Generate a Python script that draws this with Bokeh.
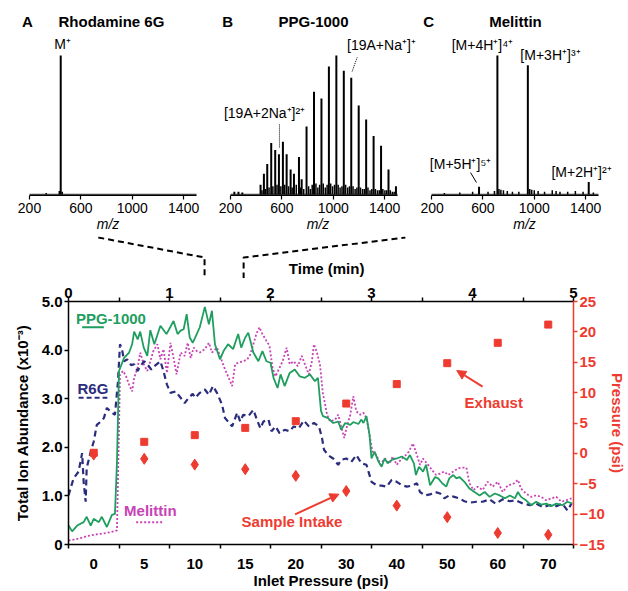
from bokeh.plotting import figure
from bokeh.models import Range1d, LinearAxis, FixedTicker, Label, Arrow, NormalHead
from bokeh.layouts import column, row
from bokeh.embed import file_html
from bokeh.resources import INLINE

FONT = "Liberation Sans"
GREEN = "#1f9e5f"
NAVY = "#2b2d7c"
MAG = "#c843b6"
RED = "#ee3b30"

# ---------------- spectra data ----------------
MZ_MIN, MZ_MAX = 200, 1500
MZ_TICKS = [200, 600, 1000, 1400]

rh_mz = [443]
rh_int = [100]
rh_small_mz = [330, 432, 455]
rh_small_int = [1, 2.5, 2]

ppg_mz = [230, 262, 292, 434, 460, 486, 517, 548, 577, 608, 637, 668, 694, 733, 754,
          792, 850, 908, 966, 1024, 1082, 1140, 1198, 1256, 1314, 1372, 1430, 1488]
ppg_int = [2, 2, 1.5, 7, 15, 22, 37, 32, 29, 38, 29, 18, 15, 27, 11,
           49, 74, 69, 92, 100, 89, 84, 64, 54, 42, 35, 18, 6]
ppg_small_mz = [445, 472, 500, 530, 562, 592, 622, 652, 680, 712,
                745, 770, 808, 822, 836, 865, 880, 894, 922, 938,
                952, 980, 995, 1010, 1038, 1053, 1068, 1096, 1112, 1126,
                1154, 1170, 1184, 1212, 1228, 1242, 1270, 1286, 1300, 1328,
                1344, 1358, 1386, 1402, 1416, 1444, 1460, 1474]
ppg_small_int = [3, 4, 5, 6, 7, 6, 7, 6, 5, 7,
                 5, 4, 6, 4, 7, 8, 5, 7, 8, 5,
                 7, 8, 6, 7, 7, 5, 6, 7, 5, 6,
                 6, 4, 5, 5, 4, 4, 5, 3, 4, 4,
                 3, 3, 4, 3, 3, 3, 2, 2]

mel_mz = [570, 713, 950, 1424]
mel_int = [5.5, 100, 93, 9]
mel_small_mz = [300, 420, 520, 640, 690, 725, 740, 760, 790, 830, 880, 965,
                980, 1000, 1030, 1080, 1140, 1170, 1200, 1260, 1320, 1380, 1460]
mel_small_int = [1, 1.5, 2, 2, 2.5, 4, 3.5, 3, 2.5, 2, 2, 4,
                 3.5, 3, 2.5, 2, 3, 2.5, 2, 2, 2.5, 2, 1.5]

# ---------------- chromatogram data ----------------
ppg_t = [0.00, 0.036, 0.086, 0.15, 0.18, 0.22, 0.25, 0.30, 0.33, 0.38, 0.43, 0.46, 0.48, 0.50,
         0.55, 0.60, 0.63, 0.65, 0.685, 0.71, 0.745, 0.78, 0.81, 0.85, 0.91, 0.97, 1.01, 1.04,
         1.08, 1.11, 1.14, 1.17, 1.20, 1.23, 1.255, 1.30, 1.35, 1.39, 1.42, 1.45, 1.50, 1.535,
         1.58, 1.63, 1.68, 1.71, 1.75, 1.78, 1.83, 1.88, 1.92, 1.96, 2.00, 2.03, 2.07, 2.10,
         2.14, 2.19, 2.24, 2.29, 2.34, 2.39, 2.44, 2.47, 2.50, 2.52, 2.57, 2.62, 2.67, 2.70,
         2.74, 2.79, 2.82, 2.87, 2.90, 2.92, 2.95, 2.98, 3.00, 3.03, 3.07, 3.10, 3.13, 3.16,
         3.20, 3.25, 3.30, 3.35, 3.38, 3.42, 3.44, 3.47, 3.51, 3.54, 3.58, 3.63, 3.66, 3.70,
         3.74, 3.77, 3.81, 3.84, 3.87, 3.92, 3.97, 4.02, 4.07, 4.12, 4.17, 4.22, 4.27, 4.32,
         4.37, 4.42, 4.45, 4.48, 4.53, 4.58, 4.63, 4.68, 4.73, 4.78, 4.83, 4.89, 4.94, 4.99]
ppg_v = [0.39, 0.27, 0.39, 0.46, 0.57, 0.39, 0.53, 0.46, 0.57, 0.36, 0.61, 0.63, 1.70, 3.57,
         3.84, 3.95, 4.12, 4.38, 4.22, 4.38, 4.05, 3.88, 4.41, 4.12, 4.50, 4.33, 4.48, 4.60,
         4.33, 4.40, 4.43, 4.74, 4.26, 4.15, 4.26, 4.47, 4.89, 4.53, 4.81, 4.12, 3.81, 3.98,
         4.12, 4.02, 4.33, 4.05, 4.26, 4.36, 3.95, 3.77, 3.98, 3.77, 3.74, 3.43, 3.22, 3.50,
         3.26, 3.53, 3.60, 3.46, 3.43, 3.50, 3.36, 3.43, 2.75, 2.64, 2.60, 2.50, 2.53, 2.36,
         2.50, 2.46, 2.52, 2.48, 2.57, 2.50, 2.64, 2.26, 1.77, 1.91, 1.70, 1.60, 1.77, 1.67,
         1.74, 1.77, 1.81, 1.74, 1.84, 1.67, 1.43, 1.60, 1.50, 1.64, 1.22, 1.39, 1.36, 1.26,
         1.19, 1.36, 1.43, 1.36, 1.39, 1.29, 1.15, 1.08, 1.01, 1.08, 0.98, 1.05, 1.01, 0.95,
         1.01, 0.95, 1.08, 0.98, 0.91, 0.81, 0.88, 0.82, 0.84, 0.79, 0.84, 0.81, 0.88, 0.84]

r6g_t = [0.00, 0.05, 0.10, 0.135, 0.15, 0.17, 0.18, 0.22, 0.25, 0.28, 0.32, 0.35, 0.38, 0.43,
         0.46, 0.49, 0.51, 0.53, 0.55, 0.58, 0.62, 0.65, 0.685, 0.71, 0.75, 0.78, 0.82, 0.85,
         0.91, 0.94, 0.975, 1.01, 1.06, 1.11, 1.15, 1.19, 1.23, 1.255, 1.30, 1.35, 1.39, 1.43,
         1.47, 1.52, 1.55, 1.58, 1.62, 1.67, 1.70, 1.73, 1.78, 1.83, 1.86, 1.90, 1.93, 1.98,
         2.01, 2.05, 2.09, 2.14, 2.19, 2.23, 2.28, 2.33, 2.38, 2.43, 2.48, 2.51, 2.53, 2.57,
         2.62, 2.67, 2.70, 2.75, 2.80, 2.85, 2.90, 2.95, 3.00, 3.05, 3.10, 3.15, 3.20, 3.25,
         3.30, 3.35, 3.40, 3.45, 3.48, 3.53, 3.58, 3.63, 3.68, 3.72, 3.77, 3.82, 3.87, 3.92,
         3.97, 4.04, 4.10, 4.17, 4.23, 4.30, 4.37, 4.43, 4.50, 4.57, 4.63, 4.70, 4.76, 4.83,
         4.89, 4.94, 4.98]
r6g_v = [1.01, 1.36, 1.50, 1.88, 1.29, 0.88, 1.57, 1.91, 2.12, 2.46, 2.53, 2.60, 2.81, 2.71,
         2.67, 3.36, 4.12, 4.02, 3.77, 3.81, 3.69, 3.71, 3.57, 3.67, 3.77, 3.71, 3.60, 3.67,
         3.77, 3.57, 3.29, 3.12, 3.15, 3.02, 2.91, 3.02, 3.10, 3.02, 3.12, 3.19, 3.08, 3.26,
         3.12, 2.88, 2.60, 2.53, 2.43, 2.71, 2.53, 2.67, 2.64, 2.77, 2.60, 2.39, 2.53, 2.57,
         2.33, 2.43, 2.29, 2.36, 2.33, 2.43, 2.39, 2.55, 2.43, 2.50, 2.43, 2.19, 1.95, 1.84,
         1.77, 1.64, 1.74, 1.77, 1.70, 1.84, 1.67, 1.64, 1.29, 1.22, 1.21, 1.19, 1.33, 1.29,
         1.22, 1.19, 1.21, 1.26, 1.08, 1.01, 1.03, 1.08, 1.05, 0.95, 1.01, 0.98, 0.95, 0.89,
         0.86, 0.88, 0.88, 0.93, 0.84, 0.93, 0.89, 0.91, 0.84, 0.81, 0.84, 0.77, 0.81, 0.79,
         0.84, 0.70, 0.84]

mel_t = [0.00, 0.05, 0.12, 0.18, 0.25, 0.32, 0.38, 0.45, 0.48, 0.50, 0.51, 0.54, 0.57, 0.60,
         0.63, 0.65, 0.685, 0.71, 0.745, 0.78, 0.81, 0.84, 0.88, 0.91, 0.94, 0.975, 1.01, 1.04,
         1.07, 1.11, 1.15, 1.18, 1.21, 1.24, 1.27, 1.30, 1.35, 1.39, 1.42, 1.47, 1.52, 1.55,
         1.58, 1.62, 1.65, 1.68, 1.73, 1.77, 1.80, 1.83, 1.86, 1.89, 1.92, 1.96, 1.99, 2.02,
         2.05, 2.09, 2.12, 2.16, 2.19, 2.23, 2.27, 2.31, 2.34, 2.38, 2.41, 2.43, 2.46, 2.49,
         2.52, 2.53, 2.56, 2.59, 2.64, 2.67, 2.70, 2.73, 2.76, 2.79, 2.82, 2.85, 2.89, 2.92,
         2.95, 2.98, 3.01, 3.05, 3.09, 3.13, 3.18, 3.21, 3.25, 3.30, 3.34, 3.37, 3.41, 3.45,
         3.48, 3.51, 3.56, 3.60, 3.64, 3.68, 3.72, 3.76, 3.81, 3.86, 3.89, 3.94, 3.97, 4.01,
         4.05, 4.10, 4.15, 4.20, 4.25, 4.30, 4.35, 4.40, 4.45, 4.48, 4.53, 4.58, 4.63, 4.68,
         4.73, 4.78, 4.83, 4.88, 4.93, 4.98]
mel_v = [0.08, 0.10, 0.13, 0.17, 0.20, 0.22, 0.24, 0.27, 0.29, 2.39, 3.50, 3.57, 3.46, 3.29,
         3.15, 3.43, 3.64, 3.95, 3.71, 3.57, 3.77, 3.98, 4.12, 3.81, 4.02, 3.53, 4.15, 3.84,
         3.50, 3.95, 3.88, 4.15, 3.84, 4.05, 3.98, 3.95, 4.02, 4.15, 3.95, 4.05, 3.77, 3.60,
         3.46, 3.26, 3.71, 3.74, 3.77, 3.81, 3.91, 4.12, 4.33, 4.47, 4.33, 4.19, 4.09, 3.64,
         3.46, 3.64, 3.77, 4.05, 3.71, 3.77, 3.67, 3.88, 3.71, 3.50, 3.77, 4.12, 3.95, 3.70,
         3.08, 3.00, 2.67, 2.53, 2.57, 2.67, 2.43, 2.19, 2.46, 2.67, 3.05, 2.74, 2.67, 2.71,
         2.60, 2.26, 1.91, 1.84, 1.64, 1.77, 1.67, 1.81, 1.64, 1.77, 1.84, 1.91, 2.08, 1.84,
         1.64, 1.77, 1.64, 1.53, 1.43, 1.46, 1.50, 1.43, 1.50, 1.57, 1.58, 1.58, 1.26, 1.12,
         1.19, 1.12, 1.29, 1.19, 1.29, 1.08, 1.22, 1.24, 1.33, 1.15, 1.05, 0.98, 1.01, 0.98,
         0.91, 0.95, 0.98, 0.88, 0.91, 0.95]

# inlet pressure steps (one per half minute)
step_centers = [0.25, 0.75, 1.25, 1.75, 2.25, 2.75, 3.25, 3.75, 4.25, 4.75]
step_bounds = [0, 0.5, 1, 1.5, 2, 2.5, 3, 3.5, 4, 4.5, 5]
inlet_labels = ["0", "5", "10", "15", "20", "30", "40", "50", "60", "70"]
exhaust_psi = [0.1, 1.9, 3.0, 4.2, 5.3, 8.2, 11.4, 14.85, 18.2, 21.2]
intake_psi = [-0.2, -0.9, -1.85, -2.6, -3.7, -6.2, -8.6, -10.5, -13.1, -13.4]

time_ticks = [0, 1, 2, 3, 4, 5]
time_minor = [0.5, 1.5, 2.5, 3.5, 4.5]
tia_ticks = [0, 1, 2, 3, 4, 5]
tia_labels = ["0", "1.0", "2.0", "3.0", "4.0", "5.0"]
psi_ticks = [-15, -10, -5, 0, 5, 10, 15, 20, 25]
spectra_window = [1.0, 1.48]   # minutes averaged for spectra A-C

# ---------------- layout geometry (pixels) ----------------
W = 628
SP_H = 236            # spectra row height
SP_FRAME_H = 195      # spectra frame height (axis line at its bottom)
SP_AX_W = 167         # pixel length of the 200-1500 m/z axis
SP_PX = 139.0         # pixels for 100 % intensity
SP_WIDTHS = [215, 205, 208]
SP_AXIS_LEFT = [29, 230, 431]   # absolute x of m/z 200 for A, B, C
CONN_H = 42
ML, MR, MT = 68, 54, 23
FRAME_H = 243
MB = 47
MAIN_H = MT + FRAME_H + MB
FRAME_W = W - ML - MR
TMAX = 5

k_mz = (MZ_MAX - MZ_MIN) / SP_AX_W
k_int = 100.0 / SP_PX
y0_int = -1 * k_int


def spectrum(idx, mz, inten, small_mz, small_int, letter, title, letter_mz, title_mz):
    width = SP_WIDTHS[idx]
    fig_left = sum(SP_WIDTHS[:idx])
    left_off = SP_AXIS_LEFT[idx] - fig_left
    xr = Range1d(MZ_MIN - left_off * k_mz, MZ_MIN + (width - left_off) * k_mz)
    yr = Range1d(y0_int, y0_int + SP_FRAME_H * k_int)
    p = figure(width=width, height=SP_H, x_range=xr, y_range=yr,
               output_backend="svg", toolbar_location=None,
               min_border_left=0, min_border_right=0, min_border_top=0,
               min_border_bottom=SP_H - SP_FRAME_H, y_axis_location=None)
    p.grid.visible = False
    p.outline_line_color = None
    p.line(x=[MZ_MIN, MZ_MAX], y=[0, 0], line_color="#444444", line_width=1.5)
    p.segment(x0=small_mz, y0=[0] * len(small_mz), x1=small_mz, y1=small_int,
              line_color="black", line_width=1.5)
    p.segment(x0=mz, y0=[0] * len(mz), x1=mz, y1=inten, line_color="black", line_width=2)
    ax = p.xaxis[0]
    ax.bounds = (MZ_MIN, MZ_MAX)
    ax.ticker = FixedTicker(ticks=MZ_TICKS)
    ax.axis_line_width = 1.2
    ax.major_tick_out = 4
    ax.major_tick_in = 0
    ax.major_tick_line_width = 1.2
    ax.minor_tick_out = 0
    ax.minor_tick_in = 0
    ax.major_label_standoff = 3
    ax.major_label_text_font = FONT
    ax.major_label_text_font_size = "14px"
    ax.major_label_text_color = "black"
    ax.axis_label = "m/z"
    ax.axis_label_standoff = 0
    ax.axis_label_text_font = FONT
    ax.axis_label_text_font_size = "14px"
    ax.axis_label_text_font_style = "italic"
    ax.axis_label_text_color = "black"
    for txt, xx in ((letter, letter_mz), (title, title_mz)):
        p.add_layout(Label(x=xx, y=124.5, text=txt, text_align="center",
                           text_baseline="middle", text_font=FONT,
                           text_font_size="15px", text_font_style="bold",
                           text_color="black"))
    return p


def peak_label(p, x, y, text):
    p.add_layout(Label(x=x, y=y, text=text, text_align="center", text_baseline="middle",
                       text_font=FONT, text_font_size="14px", text_color="black"))


pA = spectrum(0, rh_mz, rh_int, rh_small_mz, rh_small_int, "A", "Rhodamine 6G", 184, 838)
peak_label(pA, 457, 108.6, "M\u207a")

pB = spectrum(1, ppg_mz, ppg_int, ppg_small_mz, ppg_small_int, "B", "PPG-1000", 177, 846)
peak_label(pB, 1375, 107.9, "[19A+Na\u207a]\u207a")
peak_label(pB, 465, 58.3, "[19A+2Na\u207a]\u00b2\u207a")
pB.segment(x0=[1147, 581], y0=[88.5, 50.4], x1=[1186, 581], y1=[98.6, 33.1],
           line_color="black", line_width=1, line_dash="1 1")

pC = spectrum(2, mel_mz, mel_int, mel_small_mz, mel_small_int, "C", "Melittin", 177, 854)
peak_label(pC, 597, 107.9, "[M+4H\u207a]\u2074\u207a")
peak_label(pC, 1126, 100.7, "[M+3H\u207a]\u00b3\u207a")
peak_label(pC, 426, 22.3, "[M+5H\u207a]\u2075\u207a")
peak_label(pC, 1368, 16.5, "[M+2H\u207a]\u00b2\u207a")
pC.segment(x0=[504], y0=[15.8], x1=[550], y1=[8.6], line_color="black", line_width=1)

# ---------------- connector figure ----------------
px_per_min = FRAME_W / TMAX
conn = figure(width=W, height=CONN_H,
              x_range=Range1d(-ML / px_per_min, (W - ML) / px_per_min),
              y_range=Range1d(CONN_H, 0), output_backend="svg", toolbar_location=None,
              min_border=0, x_axis_location=None, y_axis_location=None)
conn.grid.visible = False
conn.outline_line_color = None
conn.line(x=[-0.306, spectra_window[0], spectra_window[0]], y=[1, 21, CONN_H],
          line_color="black", line_width=2, line_dash="6 4")
conn.line(x=[spectra_window[1], spectra_window[1], 3.468], y=[CONN_H, 21, 1],
          line_color="black", line_width=2, line_dash="6 4")
conn.add_layout(Label(x=TMAX / 2, y=32, text="Time (min)", text_align="center",
                      text_baseline="middle", text_font=FONT, text_font_size="15px",
                      text_font_style="bold", text_color="black"))

# ---------------- main figure ----------------
p = figure(width=W, height=MAIN_H, x_range=Range1d(0, TMAX), y_range=Range1d(0, 5),
           output_backend="svg", toolbar_location=None,
           min_border_left=ML, min_border_right=MR, min_border_top=MT, min_border_bottom=MB)
p.extra_y_ranges = {"psi": Range1d(-15, 25)}
p.grid.visible = False
p.outline_line_color = None


def style_axis(ax, color="black"):
    ax.axis_line_color = color
    ax.axis_line_width = 1.5
    ax.major_tick_line_color = color
    ax.minor_tick_line_color = color
    ax.major_tick_line_width = 1.5
    ax.minor_tick_line_width = 1.5
    ax.major_tick_in = 0
    ax.minor_tick_in = 0
    ax.major_tick_out = 4
    ax.minor_tick_out = 0
    ax.major_label_text_font = FONT
    ax.major_label_text_font_size = "15px"
    ax.major_label_text_font_style = "bold"
    ax.major_label_text_color = color
    ax.axis_label_text_font = FONT
    ax.axis_label_text_font_size = "15px"
    ax.axis_label_text_font_style = "bold"
    ax.axis_label_text_color = color


# bottom: inlet pressure (labels centred in each half-minute step)
bx = p.xaxis[0]
style_axis(bx)
bx.ticker = FixedTicker(ticks=step_centers, minor_ticks=step_bounds)
bx.major_label_overrides = {c: l for c, l in zip(step_centers, inlet_labels)}
bx.major_tick_out = 0
bx.minor_tick_out = 4
bx.major_label_standoff = 10
bx.axis_label = "Inlet Pressure (psi)"
bx.axis_label_standoff = 0

# left: total ion abundance
ly = p.yaxis[0]
style_axis(ly)
ly.ticker = FixedTicker(ticks=tia_ticks)
ly.major_label_overrides = {t: l for t, l in zip(tia_ticks, tia_labels)}
ly.major_label_standoff = 2
ly.axis_label = "Total Ion Abundance (x10\u207b\u00b3)"
ly.axis_label_standoff = 8

# top: time
tx = LinearAxis(ticker=FixedTicker(ticks=time_ticks, minor_ticks=time_minor))
style_axis(tx)
tx.minor_tick_out = 4
tx.major_label_standoff = 0
p.add_layout(tx, "above")

# right: pressure
ry = LinearAxis(y_range_name="psi", ticker=FixedTicker(ticks=psi_ticks))
style_axis(ry, RED)
ry.major_label_standoff = 2
ry.axis_label = "Pressure (psi)"
ry.axis_label_standoff = 1
p.add_layout(ry, "right")

# traces
p.line(mel_t, mel_v, line_color=MAG, line_width=1.8, line_dash="2 2")
p.line(r6g_t, r6g_v, line_color=NAVY, line_width=2.2, line_dash="6 4")
p.line(ppg_t, ppg_v, line_color=GREEN, line_width=1.8)

# pressures
p.scatter(step_centers, exhaust_psi, marker="square", size=7, fill_color=RED,
          line_color=RED, y_range_name="psi")
p.scatter(step_centers, intake_psi, marker="diamond", size=11, fill_color=RED,
          line_color=RED, y_range_name="psi")


# in-plot legend labels
def txt(x, y, text, color):
    p.add_layout(Label(x=x, y=y, text=text, text_align="center", text_baseline="middle",
                       text_font=FONT, text_font_size="15px", text_font_style="bold",
                       text_color=color))


txt(0.42, 4.64, "PPG-1000", GREEN)
p.line([0.135, 0.35], [4.47, 4.47], line_color=GREEN, line_width=2)
txt(0.242, 3.21, "R6G", NAVY)
p.line([0.10, 0.385], [3.02, 3.02], line_color=NAVY, line_width=2.2, line_dash="5 3")
txt(0.81, 0.70, "Melittin", MAG)
p.line([0.67, 0.93], [0.46, 0.46], line_color=MAG, line_width=2, line_dash="2 2")

txt(2.213, 0.476, "Sample Intake", RED)
txt(4.21, 2.92, "Exhaust", RED)
p.add_layout(Arrow(end=NormalHead(size=9, fill_color=RED, line_color=RED),
                   x_start=2.243, y_start=0.621, x_end=2.678, y_end=1.035,
                   line_color=RED, line_width=2))
p.add_layout(Arrow(end=NormalHead(size=9, fill_color=RED, line_color=RED),
                   x_start=4.10, y_start=3.25, x_end=3.844, y_end=3.58,
                   line_color=RED, line_width=2))

layout = column(row(pA, pB, pC), conn, p)
open("out.html", "w").write(file_html(layout, INLINE, title="Spray"))
